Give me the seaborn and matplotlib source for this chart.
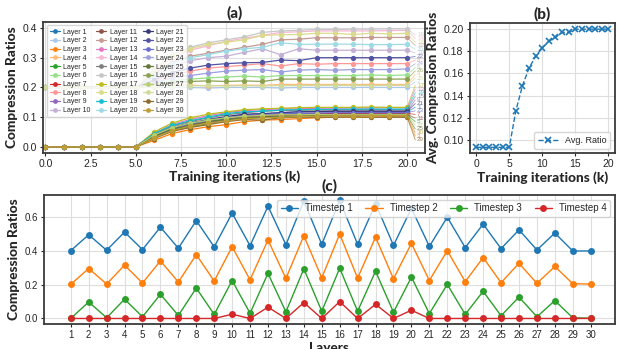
import numpy as np
import pandas as pd
import matplotlib
matplotlib.use('Agg')
import matplotlib.pyplot as plt
import seaborn as sns

# ---- panel (a): per-layer compression ratio vs training iterations (k) ----
iters = list(range(21))

layer_ratios = [
    # layer 1
    [0, 0, 0, 0, 0, 0, 0.035, 0.060, 0.075, 0.085, 0.095, 0.100, 0.105, 0.108, 0.110, 0.112, 0.113, 0.114, 0.115, 0.116, 0.117],
    # layer 2
    [0.2, 0.2, 0.2, 0.2, 0.2, 0.2, 0.200, 0.200, 0.200, 0.198, 0.200, 0.200, 0.200, 0.198, 0.200, 0.200, 0.200, 0.200, 0.200, 0.200, 0.200],
    # layer 3
    [0, 0, 0, 0, 0, 0, 0.022, 0.045, 0.058, 0.068, 0.075, 0.085, 0.090, 0.092, 0.095, 0.098, 0.100, 0.100, 0.100, 0.101, 0.100],
    # layer 4
    [0.2, 0.2, 0.2, 0.2, 0.2, 0.2, 0.205, 0.207, 0.208, 0.205, 0.207, 0.208, 0.207, 0.210, 0.210, 0.210, 0.210, 0.210, 0.210, 0.210, 0.210],
    # layer 5
    [0, 0, 0, 0, 0, 0, 0.030, 0.055, 0.068, 0.078, 0.088, 0.095, 0.100, 0.102, 0.103, 0.105, 0.105, 0.106, 0.107, 0.107, 0.108],
    # layer 6
    [0.2, 0.2, 0.2, 0.2, 0.2, 0.2, 0.210, 0.222, 0.228, 0.232, 0.235, 0.238, 0.235, 0.240, 0.240, 0.240, 0.240, 0.240, 0.242, 0.240, 0.242],
    # layer 7
    [0, 0, 0, 0, 0, 0, 0.040, 0.062, 0.075, 0.088, 0.098, 0.103, 0.105, 0.108, 0.110, 0.111, 0.112, 0.112, 0.113, 0.113, 0.113],
    # layer 8
    [0.2, 0.2, 0.2, 0.2, 0.2, 0.2, 0.220, 0.240, 0.255, 0.265, 0.270, 0.275, 0.280, 0.272, 0.280, 0.278, 0.280, 0.280, 0.280, 0.280, 0.280],
    # layer 9
    [0, 0, 0, 0, 0, 0, 0.042, 0.065, 0.080, 0.090, 0.100, 0.108, 0.110, 0.115, 0.118, 0.118, 0.119, 0.120, 0.120, 0.120, 0.120],
    # layer 10
    [0.2, 0.2, 0.2, 0.2, 0.2, 0.2, 0.235, 0.270, 0.290, 0.300, 0.305, 0.318, 0.330, 0.310, 0.330, 0.325, 0.325, 0.325, 0.325, 0.325, 0.325],
    # layer 11
    [0, 0, 0, 0, 0, 0, 0.035, 0.058, 0.072, 0.082, 0.090, 0.098, 0.100, 0.105, 0.107, 0.108, 0.109, 0.110, 0.110, 0.110, 0.110],
    # layer 12
    [0.2, 0.2, 0.2, 0.2, 0.2, 0.2, 0.245, 0.285, 0.305, 0.315, 0.325, 0.335, 0.345, 0.360, 0.362, 0.367, 0.367, 0.367, 0.368, 0.368, 0.368],
    # layer 13
    [0, 0, 0, 0, 0, 0, 0.045, 0.075, 0.092, 0.105, 0.115, 0.122, 0.125, 0.128, 0.128, 0.130, 0.130, 0.131, 0.131, 0.132, 0.132],
    # layer 14
    [0.2, 0.2, 0.2, 0.2, 0.2, 0.2, 0.250, 0.300, 0.325, 0.340, 0.355, 0.365, 0.375, 0.385, 0.387, 0.390, 0.390, 0.390, 0.390, 0.391, 0.392],
    # layer 15
    [0, 0, 0, 0, 0, 0, 0.042, 0.070, 0.085, 0.098, 0.108, 0.115, 0.120, 0.123, 0.123, 0.124, 0.124, 0.125, 0.125, 0.125, 0.125],
    # layer 16
    [0.2, 0.2, 0.2, 0.2, 0.2, 0.2, 0.260, 0.310, 0.335, 0.350, 0.360, 0.370, 0.385, 0.390, 0.392, 0.395, 0.395, 0.396, 0.396, 0.397, 0.397],
    # layer 17
    [0, 0, 0, 0, 0, 0, 0.050, 0.080, 0.098, 0.110, 0.118, 0.125, 0.128, 0.130, 0.132, 0.133, 0.133, 0.133, 0.134, 0.133, 0.133],
    # layer 18
    [0.2, 0.2, 0.2, 0.2, 0.2, 0.2, 0.255, 0.305, 0.330, 0.345, 0.352, 0.360, 0.375, 0.377, 0.378, 0.382, 0.382, 0.378, 0.382, 0.380, 0.382],
    # layer 19
    [0, 0, 0, 0, 0, 0, 0.045, 0.072, 0.088, 0.100, 0.112, 0.118, 0.120, 0.124, 0.125, 0.126, 0.126, 0.127, 0.127, 0.127, 0.127],
    # layer 20
    [0.2, 0.2, 0.2, 0.2, 0.2, 0.2, 0.240, 0.280, 0.300, 0.310, 0.322, 0.330, 0.335, 0.350, 0.345, 0.345, 0.346, 0.345, 0.344, 0.344, 0.345],
    # layer 21
    [0, 0, 0, 0, 0, 0, 0.040, 0.065, 0.080, 0.092, 0.102, 0.110, 0.112, 0.115, 0.118, 0.119, 0.120, 0.120, 0.120, 0.120, 0.120],
    # layer 22
    [0.2, 0.2, 0.2, 0.2, 0.2, 0.2, 0.225, 0.250, 0.265, 0.275, 0.280, 0.283, 0.284, 0.292, 0.290, 0.300, 0.300, 0.300, 0.300, 0.300, 0.300],
    # layer 23
    [0, 0, 0, 0, 0, 0, 0.038, 0.062, 0.077, 0.088, 0.098, 0.105, 0.108, 0.112, 0.113, 0.114, 0.115, 0.115, 0.115, 0.115, 0.115],
    # layer 24
    [0.2, 0.2, 0.2, 0.2, 0.2, 0.2, 0.215, 0.232, 0.240, 0.248, 0.255, 0.258, 0.260, 0.252, 0.258, 0.260, 0.258, 0.260, 0.260, 0.260, 0.262],
    # layer 25
    [0, 0, 0, 0, 0, 0, 0.035, 0.060, 0.072, 0.085, 0.092, 0.098, 0.100, 0.103, 0.104, 0.105, 0.105, 0.105, 0.106, 0.105, 0.105],
    # layer 26
    [0.2, 0.2, 0.2, 0.2, 0.2, 0.2, 0.208, 0.215, 0.220, 0.222, 0.220, 0.222, 0.220, 0.228, 0.228, 0.228, 0.228, 0.228, 0.228, 0.228, 0.228],
    # layer 27
    [0, 0, 0, 0, 0, 0, 0.040, 0.065, 0.080, 0.090, 0.098, 0.103, 0.106, 0.108, 0.108, 0.109, 0.108, 0.108, 0.108, 0.108, 0.108],
    # layer 28
    [0.2, 0.2, 0.2, 0.2, 0.2, 0.2, 0.203, 0.205, 0.205, 0.207, 0.205, 0.206, 0.205, 0.206, 0.206, 0.207, 0.207, 0.207, 0.206, 0.207, 0.207],
    # layer 29
    [0, 0, 0, 0, 0, 0, 0.028, 0.052, 0.065, 0.075, 0.085, 0.092, 0.090, 0.098, 0.100, 0.100, 0.100, 0.101, 0.100, 0.100, 0.100],
    # layer 30
    [0, 0, 0, 0, 0, 0, 0.030, 0.055, 0.070, 0.080, 0.088, 0.095, 0.097, 0.100, 0.102, 0.103, 0.104, 0.104, 0.105, 0.105, 0.105],
]

# ---- panel (b): average ratio ----
avg_ratio = [0.0933, 0.0933, 0.0933, 0.0933, 0.0933, 0.0933, 0.1265, 0.149, 0.165, 0.1755,
             0.183, 0.189, 0.1925, 0.197, 0.197, 0.2, 0.2, 0.2, 0.2, 0.2, 0.2]

# ---- panel (c): ratios per layer for each timestep ----
layers = list(range(1, 31))
timestep_1 = [0.402, 0.496, 0.404, 0.512, 0.408, 0.541, 0.416, 0.580, 0.424, 0.624,
              0.431, 0.665, 0.437, 0.696, 0.439, 0.700, 0.439, 0.680, 0.433, 0.653,
              0.427, 0.600, 0.420, 0.559, 0.414, 0.525, 0.406, 0.506, 0.400, 0.400]
timestep_2 = [0.202, 0.296, 0.204, 0.316, 0.210, 0.341, 0.216, 0.378, 0.222, 0.425,
              0.229, 0.465, 0.237, 0.490, 0.241, 0.500, 0.239, 0.482, 0.235, 0.445,
              0.225, 0.402, 0.218, 0.361, 0.212, 0.327, 0.208, 0.308, 0.206, 0.204]
timestep_3 = [0.000, 0.098, 0.004, 0.114, 0.010, 0.143, 0.018, 0.180, 0.024, 0.225,
              0.031, 0.267, 0.039, 0.294, 0.043, 0.298, 0.043, 0.280, 0.037, 0.245,
              0.029, 0.202, 0.024, 0.161, 0.016, 0.127, 0.010, 0.106, 0.004, 0.002]
timestep_4 = [0.000, 0.000, 0.000, 0.000, 0.000, 0.000, 0.000, 0.000, 0.000, 0.025,
              0.000, 0.067, 0.000, 0.094, 0.000, 0.100, 0.000, 0.084, 0.000, 0.049,
              0.000, 0.000, 0.000, 0.000, 0.000, 0.000, 0.000, 0.000, 0.000, 0.000]
timesteps = [timestep_1, timestep_2, timestep_3, timestep_4]
timestep_names = ['Timestep 1', 'Timestep 2', 'Timestep 3', 'Timestep 4']

# ---- style ----
sns.set_style('whitegrid', {'grid.color': '#dedede', 'axes.edgecolor': '#3a3a3a',
                            'xtick.bottom': True, 'ytick.left': True})
plt.rcParams['font.family'] = ['Liberation Sans', 'DejaVu Sans']
plt.rcParams['xtick.major.size'] = 2.5
plt.rcParams['ytick.major.size'] = 2.5
plt.rcParams['xtick.major.pad'] = 2
plt.rcParams['ytick.major.pad'] = 2
label_font = dict(family='Lato', weight='black', size=9.8)
title_font = dict(family='Lato', weight='black', size=11)

palette = list(plt.get_cmap('tab20').colors) + list(plt.get_cmap('tab20b').colors)[:10]

fig = plt.figure(figsize=(6.18, 3.49), dpi=100)
ax_a = fig.add_axes([0.070, 0.562, 0.618, 0.375])
ax_b = fig.add_axes([0.760, 0.561, 0.235, 0.373])
ax_c = fig.add_axes([0.071, 0.071, 0.924, 0.370])

# (a)
for i, vals in enumerate(layer_ratios):
    sns.lineplot(x=iters, y=vals, ax=ax_a, color=palette[i], marker='o', markersize=3.8,
                 markeredgewidth=0, linewidth=0.9, label=f'Layer {i + 1}')

finals = [v[-1] for v in layer_ratios]
order = sorted(range(30), key=lambda k: -finals[k])
label_pos = np.linspace(0.377, 0.024, 30)
for rank, k in enumerate(order):
    ax_a.plot([20, 20.45], [finals[k], label_pos[rank]], color=palette[k], lw=0.6, alpha=0.7)
    ax_a.text(20.55, label_pos[rank], str(k + 1), color=palette[k], fontsize=4.5,
              va='center', ha='left', alpha=0.8, clip_on=True)

ax_a.set_xlim(-0.12, 21.0)
ax_a.set_ylim(-0.02, 0.42)
ax_a.set_xticks([0, 2.5, 5, 7.5, 10, 12.5, 15, 17.5, 20])
ax_a.set_xticklabels(['0.0', '2.5', '5.0', '7.5', '10.0', '12.5', '15.0', '17.5', '20.0'])
ax_a.set_yticks([0, 0.1, 0.2, 0.3, 0.4])
ax_a.set_yticklabels(['0.0', '0.1', '0.2', '0.3', '0.4'])
ax_a.tick_params(labelsize=7.5)
ax_a.set_xlabel('Training iterations (k)', fontdict=label_font, labelpad=1)
ax_a.set_ylabel('Compression Ratios', fontdict=label_font, labelpad=3)
ax_a.set_title('(a)', fontdict=title_font, pad=3)
ax_a.legend(ncol=3, loc='upper left', fontsize=5.0, handlelength=1.4, labelspacing=0.25,
            columnspacing=0.8, handletextpad=0.55, borderpad=0.45, framealpha=0.8,
            markerscale=0.9, bbox_to_anchor=(0.0, 1.0))

# (b)
blue = '#1f77b4'
sns.lineplot(x=iters, y=avg_ratio, ax=ax_b, color=blue, marker='x', markersize=4.5,
             markeredgewidth=1.2, markeredgecolor=blue, linestyle='--', linewidth=1.0,
             label='Avg. Ratio')
ax_b.set_ylim(0.088, 0.2055)
ax_b.set_xticks([0, 5, 10, 15, 20])
ax_b.set_yticks([0.10, 0.12, 0.14, 0.16, 0.18, 0.20])
ax_b.set_yticklabels(['0.10', '0.12', '0.14', '0.16', '0.18', '0.20'])
ax_b.tick_params(labelsize=7.5)
ax_b.set_xlabel('Training iterations (k)', fontdict=label_font, labelpad=1)
ax_b.set_ylabel('Avg. Compression Ratios', fontdict=label_font, labelpad=3)
ax_b.set_title('(b)', fontdict=title_font, pad=3)
ax_b.legend(loc='lower right', fontsize=6.5, handlelength=2.2, borderpad=0.4)

# (c)
tab10 = list(plt.get_cmap('tab10').colors)
for j, vals in enumerate(timesteps):
    sns.lineplot(x=layers, y=vals, ax=ax_c, color=tab10[j], marker='o', markersize=5,
                 markeredgewidth=0, linewidth=1.0, label=timestep_names[j])
ax_c.set_xlim(-0.5, 31.35)
ax_c.set_ylim(-0.034, 0.731)
ax_c.set_xticks(layers)
ax_c.set_yticks([0, 0.2, 0.4, 0.6])
ax_c.set_yticklabels(['0.0', '0.2', '0.4', '0.6'])
ax_c.tick_params(labelsize=7)
ax_c.set_xlabel('Layers', fontdict=label_font, labelpad=1)
ax_c.set_ylabel('Compression Ratios', fontdict=label_font, labelpad=3)
ax_c.set_title('(c)', fontdict=title_font, pad=3)
ax_c.legend(ncol=4, loc='upper right', fontsize=7, handlelength=1.8, columnspacing=1.3,
            handletextpad=0.7, borderpad=0.35, bbox_to_anchor=(1.0, 1.0))

for ax in (ax_a, ax_b, ax_c):
    for s in ax.spines.values():
        s.set_linewidth(1.3)
    ax.grid(True, lw=0.8)

fig.savefig('out.png', dpi=100)
